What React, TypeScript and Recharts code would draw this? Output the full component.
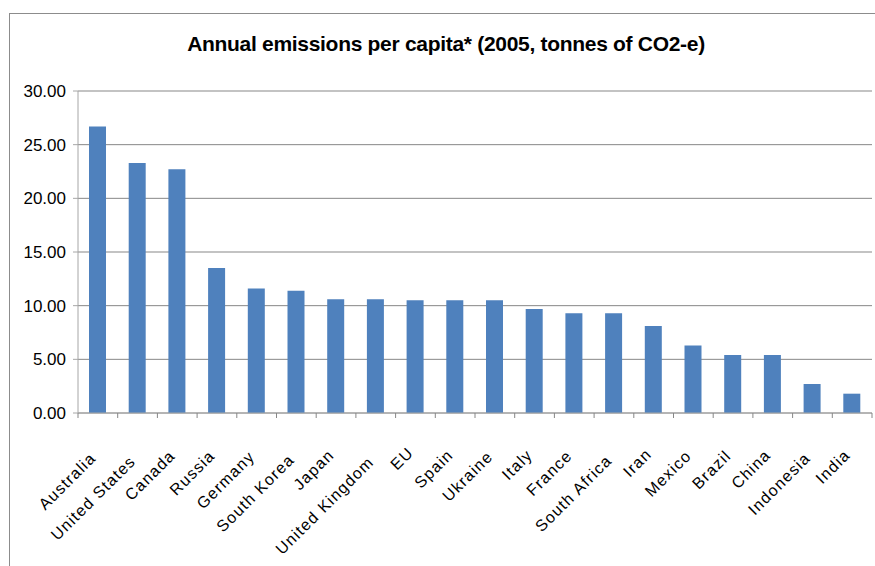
import React from 'react';
import { BarChart, Bar, XAxis, YAxis, CartesianGrid } from 'recharts';

const countries = [
  'Australia', 'United States', 'Canada', 'Russia', 'Germany', 'South Korea', 'Japan',
  'United Kingdom', 'EU', 'Spain', 'Ukraine', 'Italy', 'France', 'South Africa', 'Iran',
  'Mexico', 'Brazil', 'China', 'Indonesia', 'India',
];
const emissions = [
  26.7, 23.3, 22.7, 13.5, 11.6, 11.4, 10.6, 10.6, 10.5, 10.5, 10.5, 9.7, 9.3, 9.3, 8.1,
  6.3, 5.4, 5.4, 2.7, 1.8,
];
const yTicks = [0, 5, 10, 15, 20, 25, 30];
const title = 'Annual emissions per capita* (2005, tonnes of CO2-e)';

const data = countries.map((name, i) => ({ name, value: emissions[i] }));

const FONT = '"Liberation Sans", Arial, sans-serif';
const AXIS = '#a6a6a6';
const GRID = '#878787';

// label end sits just under the category centre, longer names a bit lower
const CategoryTick = (props: any) => {
  const { x, y, payload, index, visibleTicksCount } = props;
  const half = payload.offset || 0;
  const label = String(payload.value);
  const tx = x - 1;
  const ty = y + 39 + 0.8 * label.length;
  return (
    <g>
      <line x1={x - half} x2={x - half} y1={y} y2={y + 5} stroke={GRID} />
      {index === visibleTicksCount - 1 && (
        <line x1={x + half} x2={x + half} y1={y} y2={y + 5} stroke={GRID} />
      )}
      <text
        x={tx}
        y={ty}
        textAnchor="end"
        transform={`rotate(-45 ${tx} ${ty})`}
        fontSize={16}
        letterSpacing={1.2}
        fontFamily={FONT}
        fill="#000"
      >
        {label}
      </text>
    </g>
  );
};

export default function App() {
  return (
    <div style={{ position: 'absolute', left: 0, top: 0, width: 875, height: 566, overflow: 'hidden', background: '#fff' }}>
      <div
        style={{
          position: 'absolute',
          left: 9,
          top: 13,
          width: 900,
          height: 600,
          border: '1px solid #8c8c8c',
        }}
      />
      <div style={{ position: 'absolute', left: 0, top: 0 }}>
        <BarChart width={875} height={566} data={data} margin={{ top: 91, right: 3, left: 18, bottom: 13 }}>
          <CartesianGrid vertical={false} stroke={GRID} />
          <XAxis
            dataKey="name"
            interval={0}
            height={140}
            tickSize={0}
            tickMargin={0}
            tickLine={false}
            axisLine={{ stroke: AXIS }}
            tick={<CategoryTick />}
          />
          <YAxis
            width={60}
            domain={[0, 30]}
            ticks={yTicks}
            interval={0}
            tickSize={5}
            tickMargin={7}
            tickLine={{ stroke: AXIS }}
            axisLine={{ stroke: AXIS }}
            tickFormatter={(v: number) => v.toFixed(2)}
            tick={{ fontSize: 17, fill: '#000', fontFamily: FONT }}
          />
          <Bar dataKey="value" fill="#4f81bd" barSize={17} isAnimationActive={false} />
        </BarChart>
      </div>
      <svg width={875} height={566} style={{ position: 'absolute', left: 0, top: 0, pointerEvents: 'none' }}>
        <text
          x={446}
          y={51}
          textAnchor="middle"
          fontSize={21}
          fontWeight="bold"
          letterSpacing={-0.3}
          fontFamily={FONT}
          fill="#000"
        >
          {title}
        </text>
      </svg>
    </div>
  );
}
